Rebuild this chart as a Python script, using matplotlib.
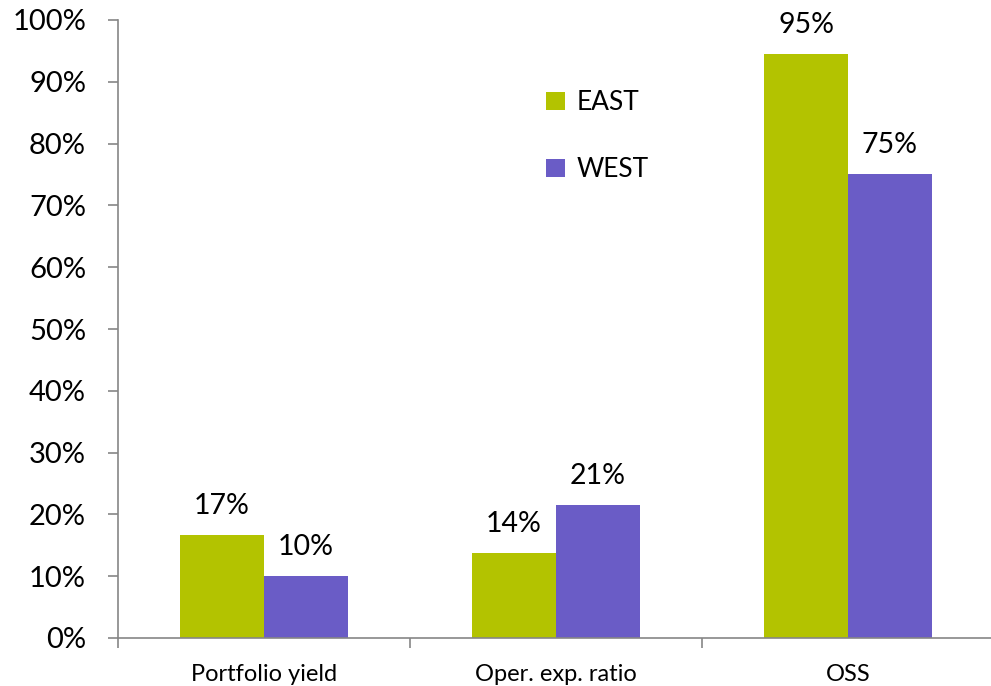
import numpy as np
import matplotlib
matplotlib.use('Agg')
import matplotlib.pyplot as plt

categories = ['Portfolio yield', 'Oper. exp. ratio', 'OSS']
east = [16.7, 13.7, 94.5]
west = [10.0, 21.5, 75.1]
east_labels = ['17%', '14%', '95%']
west_labels = ['10%', '21%', '75%']

plt.rcParams['font.family'] = ['Lato', 'DejaVu Sans']

fig = plt.figure(figsize=(9.91, 6.86), dpi=100)
ax = fig.add_axes([118/991, 48/686, (994-118)/991, (638-20)/686])

green = '#b3c300'
purple = '#6a5cc6'
axcol = '#868686'

x = np.arange(len(categories))
w = 0.287
ax.bar(x - w/2, east, w, color=green, label='EAST', zorder=2)
ax.bar(x + w/2, west, w, color=purple, label='WEST', zorder=2)

for i in range(len(categories)):
    ax.text(x[i] - w/2, east[i] + 2.6, east_labels[i], ha='center', va='bottom', fontsize=20.5)
    ax.text(x[i] + w/2, west[i] + 2.6, west_labels[i], ha='center', va='bottom', fontsize=20.5)

ax.set_xlim(-0.5, 2.5)
ax.set_ylim(0, 100)
ax.set_yticks(np.arange(0, 101, 10))
ax.set_yticklabels(['%d%%' % v for v in range(0, 101, 10)], fontsize=21)
ax.set_xticks(x)
ax.set_xticklabels(categories, fontsize=17)
ax.set_xticks([-0.5, 0.5, 1.5, 2.5], minor=True)
ax.tick_params(axis='x', which='major', length=0, pad=19)
ax.tick_params(axis='x', which='minor', length=7, color=axcol, width=1.2)
ax.tick_params(axis='y', length=7, color=axcol, width=1.2, pad=16)

for s in ['top', 'right']:
    ax.spines[s].set_visible(False)
for s in ['left', 'bottom']:
    ax.spines[s].set_color(axcol)
    ax.spines[s].set_linewidth(1.2)

ax.legend(loc='upper left', bbox_to_anchor=(0.462, 0.925), frameon=False,
          fontsize=19, handlelength=0.7, handleheight=0.7, labelspacing=1.6,
          handletextpad=0.45)

plt.savefig('out.png', dpi=100)
